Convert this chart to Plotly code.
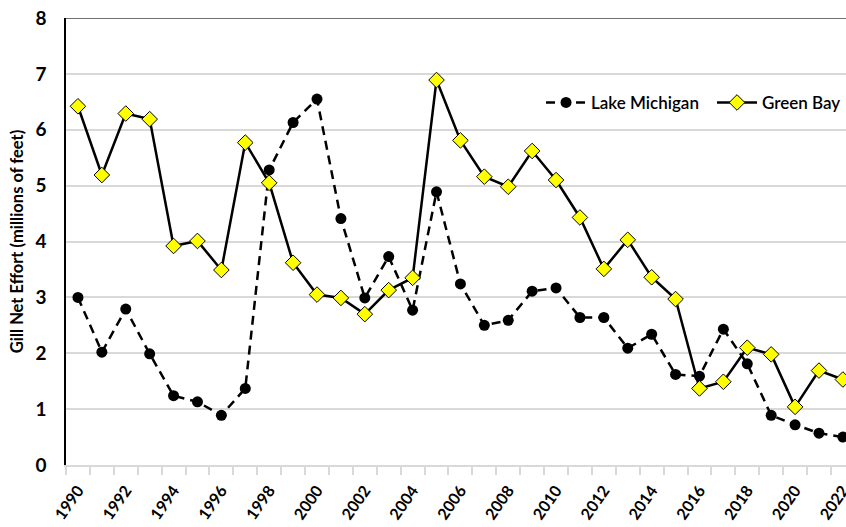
import plotly.graph_objects as go

years = list(range(1990, 2023))
lake_michigan = [3.00, 2.02, 2.79, 1.99, 1.24, 1.13, 0.89, 1.37, 5.28, 6.13,
                 6.55, 4.41, 2.99, 3.73, 2.77, 4.89, 3.24, 2.50, 2.59, 3.11,
                 3.17, 2.64, 2.64, 2.09, 2.34, 1.62, 1.59, 2.43, 1.81, 0.89,
                 0.72, 0.57, 0.50]
green_bay = [6.42, 5.19, 6.29, 6.19, 3.92, 4.01, 3.49, 5.77, 5.05, 3.62,
             3.05, 2.99, 2.70, 3.13, 3.35, 6.89, 5.81, 5.16, 4.98, 5.62,
             5.10, 4.43, 3.51, 4.03, 3.36, 2.97, 1.37, 1.49, 2.10, 1.98,
             1.04, 1.69, 1.53]
label_years = list(range(1990, 2023, 2))
y_ticks = list(range(0, 9))

fig = go.Figure()
fig.add_trace(go.Scatter(
    x=years, y=lake_michigan, name="Lake Michigan", mode="lines+markers",
    line=dict(color="black", width=2.5, dash="9px,6px"),
    marker=dict(symbol="circle", size=11, color="black"),
    cliponaxis=False, legend="legend",
))
fig.add_trace(go.Scatter(
    x=years, y=green_bay, name="Green Bay", mode="lines+markers",
    line=dict(color="black", width=2.5),
    marker=dict(symbol="diamond", size=12, color="#FFFF00",
                line=dict(color="black", width=1)),
    cliponaxis=False, legend="legend2",
))

fig.add_shape(type="line", xref="paper", yref="y", x0=0, x1=1, y0=8, y1=8,
              line=dict(color="#404040", width=1.5), layer="above")

legend_font = dict(size=17, family="Lato, sans-serif", weight=600)
fig.update_layout(
    width=846, height=527,
    margin=dict(l=66, r=0, t=18, b=62),
    plot_bgcolor="white", paper_bgcolor="white",
    font=dict(family="Lato, 'Open Sans', sans-serif", color="black"),
    showlegend=True,
    legend=dict(orientation="h", x=0.609, y=0.81, xanchor="left", yanchor="middle",
                font=legend_font, bgcolor="rgba(255,255,255,0)", itemwidth=40),
    legend2=dict(orientation="h", x=1.0, y=0.81, xanchor="right", yanchor="middle",
                 font=legend_font, bgcolor="rgba(255,255,255,0)", itemwidth=40),
    xaxis=dict(
        range=[1989.5, 2022.13], automargin=False,
        tickmode="array", tickvals=label_years,
        ticktext=[str(y) for y in label_years],
        tickangle=-55, ticks="", ticklabeloverflow="allow",
        ticklabelstandoff=8, ticklabelshift=0,
        tickfont=dict(size=16, family="Lato, sans-serif", weight="bold"),
        showgrid=False, zeroline=False,
        showline=True, linecolor="#d9d9d9", linewidth=1.5,
        minor=dict(tick0=1989.5, dtick=1, ticks="outside", ticklen=8,
                   tickcolor="#d9d9d9", tickwidth=1.5, showgrid=False),
    ),
    yaxis=dict(
        range=[0, 8], tickmode="array", tickvals=y_ticks, automargin=False,
        ticks="", showgrid=True, gridcolor="#d9d9d9", gridwidth=1.5,
        zeroline=False, showline=True, linecolor="black", linewidth=1.5,
        ticklabelstandoff=14,
        tickfont=dict(size=19, family="Lato, sans-serif", weight="bold"),
        title=dict(text="Gill Net Effort (millions of feet)",
                   font=dict(size=16.5, family="Lato, sans-serif", weight="bold"),
                   standoff=8),
    ),
)

fig.write_html(
    "out.html",
    config={"displayModeBar": False},
    post_script="document.body.style.margin='0';document.body.style.overflow='hidden';",
)
